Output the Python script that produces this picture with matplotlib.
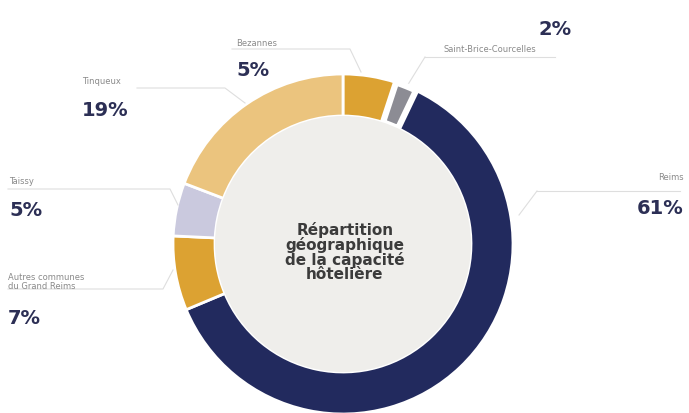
import numpy as np
import matplotlib.pyplot as plt
from matplotlib.patches import Circle

# data
communes = ["Bezannes", "Saint-Brice-Courcelles", "Reims",
            "Autres communes\ndu Grand Reims", "Taissy", "Tinqueux"]
parts = [5, 2, 61, 7, 5, 19]
colors = ["#dca232", "#8c8c94", "#222a5e", "#dca232", "#cac9de", "#ebc47e"]

W, H = 689, 414
fig = plt.figure(figsize=(W / 100, H / 100), dpi=100)
ax = fig.add_axes([0, 0, 1, 1])
ax.set_xlim(0, W)
ax.set_ylim(0, H)
ax.set_aspect("equal")
ax.axis("off")

def py(y):
    # pixel row -> data y
    return H - y

cx, cy, R = 343, py(245), 170
wedges, _ = ax.pie(parts, colors=colors, startangle=90, counterclock=False,
                   center=(cx, cy), radius=R,
                   wedgeprops=dict(width=42, edgecolor="white", linewidth=2))
# the small Saint-Brice slice sits between white gaps
wedges[1].set_linewidth(4.5)
wedges[1].set_zorder(2)
ax.add_patch(Circle((cx, cy), R - 42, facecolor="#efeeeb", edgecolor="none", zorder=3))
ax.set_xlim(0, W)
ax.set_ylim(0, H)

ax.text(cx + 2, py(252), "Répartition\ngéographique\nde la capacité\nhôtelière",
        ha="center", va="center", fontsize=11, fontweight="bold",
        color="#3b3b3b", linespacing=0.92, family="DejaVu Sans", zorder=4)

navy = "#2c2f55"
grey = "#8a8a8a"
line_c = "#dedede"

# leader lines (pixel coords)
leaders = [
    [(232, 50), (350, 50), (361, 73)],
    [(425, 58), (555, 58)], [(425, 58), (404, 92)],
    [(137, 89), (225, 89), (245, 104)],
    [(8, 190), (170, 190), (178, 206)],
    [(8, 290), (163, 290), (173, 271)],
    [(537, 192), (680, 192)], [(537, 192), (519, 216)],
]
for pts in leaders:
    xs = [p[0] for p in pts]
    ys = [py(p[1]) for p in pts]
    ax.plot(xs, ys, color=line_c, lw=0.8, zorder=1)

# labels: (name, pct, x, y_name, y_pct, ha)
labels = [
    ("Bezannes", "5%", 236, 44, 70, "left"),
    ("Tinqueux", "19%", 82, 82, 110, "left"),
    ("Taissy", "5%", 9, 182, 211, "left"),
    ("Autres communes\ndu Grand Reims", "7%", 8, 282, 318, "left"),
    ("Reims", "61%", 684, 178, 209, "right"),
]
for name, pct, x, yn, yp, ha in labels:
    ax.text(x, py(yn), name, ha=ha, va="center", fontsize=6, color=grey,
            linespacing=0.9)
    ax.text(x, py(yp), pct, ha=ha, va="center", fontsize=14, fontweight="bold",
            color=navy)

ax.text(490, py(49), "Saint-Brice-Courcelles", ha="center", va="center",
        fontsize=6, color=grey)
ax.text(572, py(29), "2%", ha="right", va="center", fontsize=14,
        fontweight="bold", color=navy)

fig.savefig("out.png", dpi=100, facecolor="white")
